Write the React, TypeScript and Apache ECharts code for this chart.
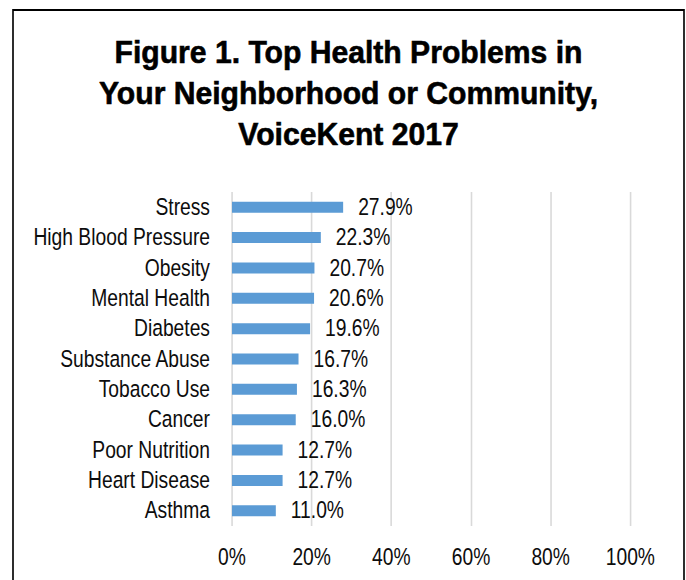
import React, { useEffect, useRef } from "react";
import * as echarts from "echarts";

const categories = [
  "Stress",
  "High Blood Pressure",
  "Obesity",
  "Mental Health",
  "Diabetes",
  "Substance Abuse",
  "Tobacco Use",
  "Cancer",
  "Poor Nutrition",
  "Heart Disease",
  "Asthma",
];
const values = [27.9, 22.3, 20.7, 20.6, 19.6, 16.7, 16.3, 16.0, 12.7, 12.7, 11.0];
const titleLines = [
  "Figure 1. Top Health Problems in",
  "Your Neighborhood or Community,",
  "VoiceKent 2017",
];

// Narrow-font emulation: the chart is drawn wider and squeezed horizontally.
const S = 0.82;
const W = 686;
const H = 580;
const FONT = "'Liberation Sans', Arial, sans-serif";

export default function App() {
  const ref = useRef<HTMLDivElement>(null);
  useEffect(() => {
    document.body.style.margin = "0";
    const chart = echarts.init(ref.current!, undefined, { renderer: "svg" });
    chart.setOption({
      animation: false,
      backgroundColor: "#fff",
      graphic: [
        {
          type: "rect",
          shape: { x: 13 / S, y: 10, width: 671 / S, height: 600 },
          style: { fill: "none", stroke: "#000", lineWidth: 2 },
          silent: true,
        },
        {
          type: "text",
          x: 348.5 / S,
          y: 32,
          scaleX: 0.95 / S,
          style: {
            text: titleLines.join("\n"),
            fontFamily: FONT,
            fontWeight: "bold",
            fontSize: 31.7,
            lineHeight: 41,
            fill: "#000",
            stroke: "#000",
            lineWidth: 0.6,
            textAlign: "center",
            textVerticalAlign: "top",
          },
        },
      ],
      grid: { left: 232 / S, right: 56 / S, top: 192, bottom: 54, containLabel: false },
      xAxis: {
        type: "value",
        min: 0,
        max: 100,
        interval: 20,
        axisLine: { show: false },
        axisTick: { show: false },
        splitLine: { show: true, lineStyle: { color: "#d9d9d9", width: 1.6 / S } },
        axisLabel: {
          formatter: "{value}%",
          fontFamily: FONT,
          fontSize: 23.5,
          color: "#0d0d0d",
          margin: 19,
        },
      },
      yAxis: {
        type: "category",
        data: categories,
        inverse: true,
        axisLine: { show: false },
        axisTick: { show: false },
        axisLabel: {
          interval: 0,
          fontFamily: FONT,
          fontSize: 23.5,
          color: "#0d0d0d",
          margin: 22 / S,
        },
      },
      series: [
        {
          type: "bar",
          data: values,
          barWidth: 11,
          itemStyle: { color: "#5B9BD5" },
          label: {
            show: true,
            position: "right",
            distance: 15 / S,
            formatter: (p: any) => p.value.toFixed(1) + "%",
            fontFamily: FONT,
            fontSize: 23.5,
            color: "#0d0d0d",
          },
        },
      ],
    });
    return () => chart.dispose();
  }, []);
  return (
    <div style={{ width: W, height: H, overflow: "hidden", position: "relative" }}>
      <div
        ref={ref}
        style={{
          width: W / S,
          height: H,
          transform: `scaleX(${S})`,
          transformOrigin: "0 0",
        }}
      />
    </div>
  );
}
